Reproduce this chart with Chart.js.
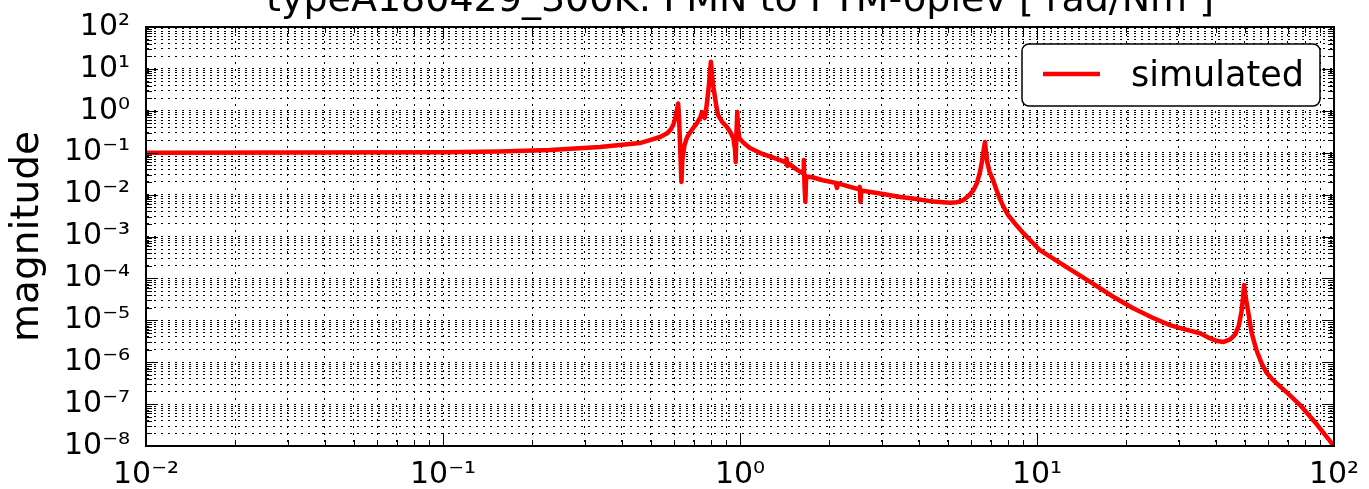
<!DOCTYPE html>
<html><head><meta charset="utf-8">
<script src="https://cdn.jsdelivr.net/npm/chart.js@4"></script>
<style>html,body{margin:0;padding:0;background:#fff;overflow:hidden}canvas{display:block}</style>
</head><body>
<canvas id="c" width="1369" height="489"></canvas>
<script>
const chartTitle = 'typeA180429_300K: PMN to PTM-oplev [ rad/Nm ]';
const yAxisTitle = 'magnitude';
const seriesLabel = 'simulated';

const freq = [
  0.01, 0.03, 0.1, 0.155, 0.229, 0.338, 0.394, 0.46, 0.497, 0.538, 0.568, 0.585, 0.597, 0.607, 0.614, 0.619, 0.624,
  0.629, 0.635, 0.640, 0.650, 0.664, 0.69, 0.716, 0.735, 0.745, 0.752, 0.760, 0.768, 0.776, 0.784, 0.791, 0.798,
  0.805, 0.812, 0.820, 0.832, 0.844, 0.87, 0.904, 0.93, 0.950, 0.962, 0.967, 0.973, 0.979, 0.986, 0.995, 1.03,
  1.08, 1.17, 1.28, 1.40, 1.425, 1.435, 1.445, 1.46, 1.55, 1.63, 1.64, 1.65, 1.66, 1.67, 1.75, 1.9, 2.10, 2.12,
  2.14, 2.30, 2.50, 2.53, 2.545, 2.56, 2.75, 3.03, 3.46, 3.82, 4.47, 5.09, 5.38, 5.64, 5.9, 6.1, 6.28, 6.43, 6.55,
  6.62, 6.68, 6.73, 6.8, 6.92, 7.11, 7.3, 7.5, 7.75, 7.98, 8.5, 9.0, 9.6, 10.2, 12.5, 15.1, 18, 21.0, 24.5, 28.0,
  31.5, 35.4, 38.0, 40.4, 42.5, 44.7, 46.5, 47.8, 48.8, 49.4, 49.8, 50.3, 51.3, 52.8, 54.8, 57.0, 59.4, 62.0, 65.8,
  70.5, 76.9, 87.5, 100
];
const magnitude = [
  0.100, 0.1005, 0.103, 0.107, 0.116, 0.137, 0.153, 0.17, 0.2, 0.237, 0.29, 0.36, 0.48, 0.7, 1.1, 1.5, 0.6,
  0.12, 0.02, 0.07, 0.15, 0.237, 0.36, 0.51, 0.7, 0.93, 0.75, 0.67, 1.0, 1.8, 3.5, 7, 14.9,
  7, 4, 2.6, 1.3, 0.79, 0.55, 0.41, 0.3, 0.22, 0.12, 0.06, 0.3, 0.93, 0.35, 0.22, 0.17,
  0.13, 0.098, 0.078, 0.062, 0.058, 0.072, 0.048, 0.055, 0.04, 0.032, 0.067, 0.015, 0.0067, 0.027, 0.026, 0.022, 0.019, 0.0144,
  0.0185, 0.016, 0.0135, 0.0152, 0.0067, 0.0125, 0.0115, 0.0103, 0.0088, 0.0081, 0.0068, 0.0064, 0.0066, 0.0073, 0.0095, 0.0125, 0.019, 0.035, 0.07,
  0.12, 0.18, 0.11, 0.06, 0.035, 0.0223, 0.013, 0.0078, 0.0048, 0.0033, 0.0019, 0.0012, 7.5e-4, 4.8e-4, 1.9e-4, 8.3e-5, 3.7e-5, 1.97e-5, 1.15e-5, 7.7e-6,
  6.1e-6, 4.9e-6, 3.8e-6, 3.2e-6, 3.05e-6, 3.5e-6, 4.6e-6, 7.5e-6, 1.6e-5, 3.5e-5, 7.0e-5, 4.0e-5, 1.76e-5, 5.0e-6, 1.95e-6, 9.5e-7, 5.5e-7, 3.9e-7, 2.65e-7,
  1.7e-7, 9.5e-8, 3.3e-8, 1e-8
];

const xTickValues = [0.01, 0.1, 1, 10, 100];
const xTickLabels = ['10\u207B\u00B2', '10\u207B\u00B9', '10\u2070', '10\u00B9', '10\u00B2'];
const yTickValues = [1e-8, 1e-7, 1e-6, 1e-5, 1e-4, 1e-3, 1e-2, 1e-1, 1, 10, 100];
const yTickLabels = ['10\u207B\u2078', '10\u207B\u2077', '10\u207B\u2076', '10\u207B\u2075', '10\u207B\u2074', '10\u207B\u00B3', '10\u207B\u00B2', '10\u207B\u00B9', '10\u2070', '10\u00B9', '10\u00B2'];

function decadeTicks(majors) {
  const out = [];
  for (let i = 0; i < majors.length; i++) {
    out.push({ value: majors[i], major: true });
    if (i < majors.length - 1) {
      for (let k = 2; k <= 9; k++) out.push({ value: majors[i] * k, major: false });
    }
  }
  return out;
}
function labelFor(values, labels, v) {
  for (let i = 0; i < values.length; i++) {
    if (Math.abs(v / values[i] - 1) < 1e-6) return labels[i];
  }
  return '';
}

const FONT = "'DejaVu Sans', sans-serif";

const framePlugin = {
  id: 'frame',
  afterDatasetsDraw(chart) {
    const { ctx, chartArea: a, scales } = chart;
    ctx.save();
    ctx.strokeStyle = '#000';
    ctx.lineWidth = 1;
    scales.x.ticks.forEach(t => {
      const px = Math.round(scales.x.getPixelForValue(t.value)) + 0.5;
      const len = t.major ? 12 : 6;
      ctx.beginPath();
      ctx.moveTo(px, a.bottom); ctx.lineTo(px, a.bottom - len);
      ctx.moveTo(px, a.top); ctx.lineTo(px, a.top + len);
      ctx.stroke();
    });
    scales.y.ticks.forEach(t => {
      const py = Math.round(scales.y.getPixelForValue(t.value)) + 0.5;
      const len = t.major ? 12 : 6;
      ctx.beginPath();
      ctx.moveTo(a.left, py); ctx.lineTo(a.left + len, py);
      ctx.moveTo(a.right, py); ctx.lineTo(a.right - len, py);
      ctx.stroke();
    });
    ctx.lineWidth = 2;
    ctx.strokeRect(a.left, a.top, a.right - a.left, a.bottom - a.top);
    ctx.restore();
  },
  afterDraw(chart) {
    const { ctx } = chart;
    const ds = chart.data.datasets[0];
    ctx.save();
    const bx = 1022, by = 44, bw = 298, bh = 62, r = 7;
    ctx.fillStyle = '#fff';
    ctx.strokeStyle = '#000';
    ctx.lineWidth = 1.5;
    ctx.beginPath();
    ctx.moveTo(bx + r, by);
    ctx.arcTo(bx + bw, by, bx + bw, by + bh, r);
    ctx.arcTo(bx + bw, by + bh, bx, by + bh, r);
    ctx.arcTo(bx, by + bh, bx, by, r);
    ctx.arcTo(bx, by, bx + bw, by, r);
    ctx.closePath();
    ctx.fill();
    ctx.stroke();
    ctx.strokeStyle = ds.borderColor;
    ctx.lineWidth = ds.borderWidth;
    ctx.beginPath();
    ctx.moveTo(1043, 74); ctx.lineTo(1100, 74);
    ctx.stroke();
    ctx.fillStyle = '#000';
    ctx.font = '35px ' + FONT;
    ctx.textBaseline = 'alphabetic';
    ctx.textAlign = 'left';
    ctx.fillText(ds.label, 1131, 86);
    ctx.restore();
  }
};

new Chart(document.getElementById('c'), {
  type: 'line',
  data: {
    datasets: [{
      label: seriesLabel,
      data: freq.map((f, i) => ({ x: f, y: magnitude[i] })),
      borderColor: '#ff0000',
      borderWidth: 4.5,
      borderJoinStyle: 'round',
      pointRadius: 0,
      tension: 0,
      fill: false
    }]
  },
  options: {
    responsive: false,
    animation: false,
    devicePixelRatio: 1,
    layout: { padding: { top: 0, right: 35, bottom: 0, left: 0 } },
    plugins: {
      legend: { display: false },
      tooltip: { enabled: false },
      title: {
        display: true,
        text: chartTitle,
        fullSize: false,
        color: '#000',
        font: { family: FONT, size: 38, weight: 'normal', lineHeight: 1.2 },
        padding: { top: -21.9, bottom: 3.3 }
      }
    },
    scales: {
      x: {
        type: 'logarithmic',
        position: 'bottom',
        min: 0.01, max: 100,
        afterBuildTicks: s => { s.ticks = decadeTicks(xTickValues); },
        afterFit: s => { s.height = 43; s.paddingLeft = 0; s.paddingRight = 0; },
        ticks: {
          autoSkip: false, maxRotation: 0, minRotation: 0,
          color: '#000', padding: 11,
          font: { family: FONT, size: 30 },
          callback: v => labelFor(xTickValues, xTickLabels, v)
        },
        grid: { color: '#000', lineWidth: 1, drawTicks: false },
        border: { display: true, color: '#000', width: 2, dash: [2, 5] }
      },
      y: {
        type: 'logarithmic',
        position: 'left',
        min: 1e-8, max: 100,
        afterBuildTicks: s => { s.ticks = decadeTicks(yTickValues); },
        afterFit: s => { s.width = 146; s.paddingTop = 0; s.paddingBottom = 0; },
        ticks: {
          autoSkip: false,
          color: '#000', padding: 16,
          font: { family: FONT, size: 30 },
          callback: v => labelFor(yTickValues, yTickLabels, v)
        },
        title: {
          display: true, text: yAxisTitle, color: '#000',
          font: { family: FONT, size: 39 },
          padding: { top: 4, bottom: 0 }
        },
        grid: { color: '#000', lineWidth: 1, drawTicks: false },
        border: { display: true, color: '#000', width: 2, dash: [2, 5] }
      }
    }
  },
  plugins: [framePlugin]
});
</script>
</body></html>
